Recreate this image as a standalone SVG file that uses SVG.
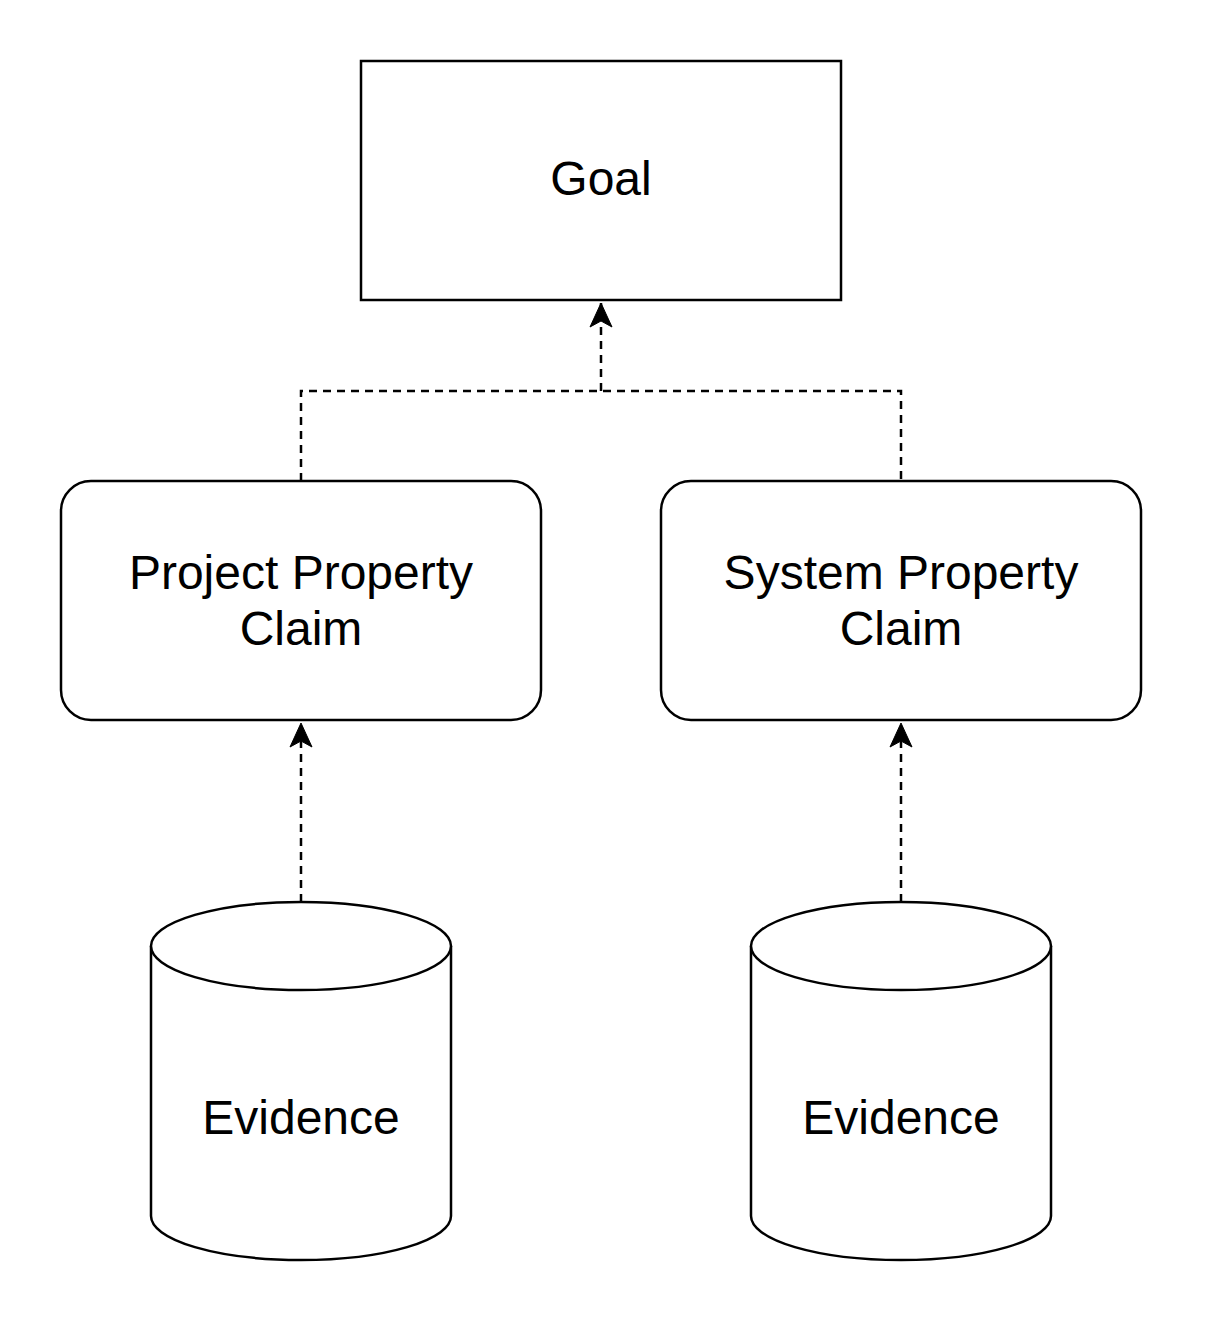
<svg xmlns="http://www.w3.org/2000/svg" width="1206" height="1326" viewBox="0 0 1206 1326">
<style>
.shape{fill:#fff;stroke:#000;stroke-width:2.5}
.lbl{font-family:"Liberation Sans",Arial,sans-serif;font-size:48px;fill:#000;text-anchor:middle}
.conn{fill:none;stroke:#000;stroke-width:2.5;stroke-dasharray:8 6}
</style>
<defs>
<marker id="ah" viewBox="0 0 10 10" refX="10" refY="5" markerWidth="10" markerHeight="10" markerUnits="userSpaceOnUse" orient="auto" overflow="visible">
<path d="M10,5 L-14,-6 L-8,5 L-14,16 Z" fill="#000" stroke="#000" stroke-width="1"/>
</marker>
</defs>
<rect width="1206" height="1326" fill="#fff"/>
<g id="connectors">
<path class="conn" d="M301,481 V391 H901 V481"/>
<path class="conn" d="M601,391 V303" marker-end="url(#ah)"/>
<path class="conn" d="M301,902 V723" marker-end="url(#ah)"/>
<path class="conn" d="M901,902 V723" marker-end="url(#ah)"/>
</g>
<g id="goal">
<rect class="shape" x="361" y="61" width="480" height="239"/>
<text class="lbl" x="601" y="195">Goal</text>
</g>
<g id="project-claim">
<rect class="shape" x="61" y="481" width="480" height="239" rx="30" ry="30"/>
<text class="lbl" x="301" y="589">Project Property</text>
<text class="lbl" x="301" y="645">Claim</text>
</g>
<g id="system-claim">
<rect class="shape" x="661" y="481" width="480" height="239" rx="30" ry="30"/>
<text class="lbl" x="901" y="589">System Property</text>
<text class="lbl" x="901" y="645">Claim</text>
</g>
<g id="evidence-1">
<path class="shape" d="M151,946 A150,44 0 0 1 451,946 V1216 A150,44 0 0 1 151,1216 Z"/>
<path class="shape" fill="none" d="M151,946 A150,44 0 0 0 451,946"/>
<text class="lbl" x="301" y="1134">Evidence</text>
</g>
<g id="evidence-2">
<path class="shape" d="M751,946 A150,44 0 0 1 1051,946 V1216 A150,44 0 0 1 751,1216 Z"/>
<path class="shape" fill="none" d="M751,946 A150,44 0 0 0 1051,946"/>
<text class="lbl" x="901" y="1134">Evidence</text>
</g>
</svg>
